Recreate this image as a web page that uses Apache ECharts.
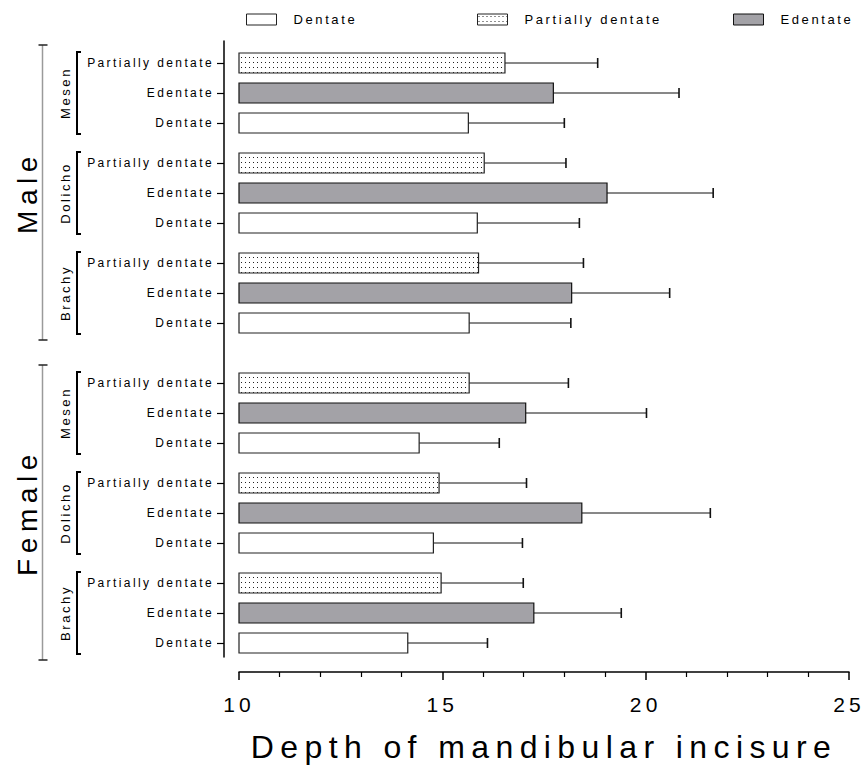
<!DOCTYPE html>
<html><head><meta charset="utf-8">
<script src="https://cdn.jsdelivr.net/npm/echarts@6/dist/echarts.min.js"></script>
<style>
html,body{margin:0;padding:0;background:#fff;}
#chart{width:867px;height:778px;}
#chart svg text{letter-spacing:0.2em;}
</style></head><body><div id="chart"></div>
<script>
// ---- data ----
const sexes = ['Male', 'Female'];
const shapes = ['Mesen', 'Dolicho', 'Brachy'];
const statuses = ['Partially dentate', 'Edentate', 'Dentate'];
const legendOrder = ['Dentate', 'Partially dentate', 'Edentate'];
// order of groups: Male Mesen, Male Dolicho, Male Brachy, Female Mesen, Female Dolicho, Female Brachy
const partialMean  = [16.54, 16.03, 15.89, 15.66, 14.92, 14.97];
const partialSD    = [2.28, 2.01, 2.58, 2.44, 2.15, 2.02];
const edentateMean = [17.73, 19.05, 18.18, 17.05, 18.43, 17.25];
const edentateSD   = [3.09, 2.61, 2.41, 2.97, 3.16, 2.15];
const dentateMean  = [15.64, 15.86, 15.66, 14.43, 14.78, 14.15];
const dentateSD    = [2.36, 2.51, 2.50, 1.97, 2.19, 1.96];
const xTicks = [10, 15, 20, 25];
const xTitle = 'Depth of mandibular incisure';

// ---- layout helpers ----
const FONT = '"Liberation Sans", Arial, sans-serif';
const X_MIN = xTicks[0], X_MAX = xTicks[xTicks.length - 1];
function rowPos(sexI, shapeI, statusI) { return sexI * 32 + shapeI * 10 + statusI * 3; }

function makeDots() {
  const c = document.createElement('canvas');
  c.width = 4; c.height = 5;
  const ctx = c.getContext('2d');
  ctx.fillStyle = '#ffffff'; ctx.fillRect(0, 0, 4, 5);
  ctx.fillStyle = '#222222'; ctx.fillRect(1, 2, 1, 1);
  return c;
}
const dotPattern = { image: makeDots(), repeat: 'repeat', imageWidth: 4, imageHeight: 5 };

const statusStyle = {
  'Partially dentate': { fill: dotPattern, stroke: '#222', lineWidth: 1.2 },
  'Edentate': { fill: '#a3a2a7', stroke: '#111', lineWidth: 1.2 },
  'Dentate': { fill: '#ffffff', stroke: '#222', lineWidth: 1.2 }
};
const statusData = {
  'Partially dentate': [partialMean, partialSD],
  'Edentate': [edentateMean, edentateSD],
  'Dentate': [dentateMean, dentateSD]
};

const positions = [];
const labelAt = {};
sexes.forEach((s, si) => shapes.forEach((sh, hi) => statuses.forEach((st, ti) => {
  const p = rowPos(si, hi, ti);
  positions.push(p);
  labelAt[p] = st;
})));

function barSeries(status) {
  const ti = statuses.indexOf(status);
  const [means, sds] = statusData[status];
  const data = [];
  sexes.forEach((s, si) => shapes.forEach((sh, hi) => {
    const gi = si * shapes.length + hi;
    data.push([means[gi], rowPos(si, hi, ti), sds[gi]]);
  }));
  const st = statusStyle[status];
  return {
    type: 'custom', name: status, coordinateSystem: 'cartesian2d',
    encode: { x: 0, y: 1 }, data: data, silent: true,
    itemStyle: { color: st.fill, borderColor: st.stroke, borderWidth: st.lineWidth },
    renderItem: function (params, api) {
      const mean = api.value(0), pos = api.value(1), sd = api.value(2);
      const p0 = api.coord([X_MIN, pos]);
      const p1 = api.coord([mean, pos]);
      const p2 = api.coord([mean + sd, pos]);
      const h = api.size([0, 2])[1];
      const cap = api.size([0, 1])[1] / 2;
      return { type: 'group', children: [
        { type: 'line', shape: { x1: p1[0], y1: p1[1], x2: p2[0], y2: p2[1] }, style: { stroke: '#111', lineWidth: 1 } },
        { type: 'line', shape: { x1: p2[0], y1: p2[1] - cap, x2: p2[0], y2: p2[1] + cap }, style: { stroke: '#111', lineWidth: 1.6 } },
        { type: 'rect', shape: { x: p0[0], y: p1[1] - h / 2, width: p1[0] - p0[0], height: h },
          style: { fill: st.fill, stroke: st.stroke, lineWidth: st.lineWidth } }
      ] };
    }
  };
}

// group annotation (brackets + rotated names)
const subGroups = [];
sexes.forEach((s, si) => shapes.forEach((sh, hi) => {
  subGroups.push({ name: sh, first: rowPos(si, hi, 0), last: rowPos(si, hi, statuses.length - 1) });
}));
const sexGroups = sexes.map((s, si) => ({ name: s, first: rowPos(si, 0, 0), last: rowPos(si, shapes.length - 1, statuses.length - 1) }));

function textEl(x, y, text, size) {
  return { type: 'text', x: x, y: y, rotation: Math.PI / 2,
    style: { text: text, fill: '#000', fontSize: size, fontFamily: FONT,
      align: 'center', verticalAlign: 'middle', textAlign: 'center', textVerticalAlign: 'middle' } };
}

const subGroupSeries = {
  type: 'custom', name: 'subgroups', coordinateSystem: 'cartesian2d', silent: true,
  encode: { x: 0, y: [1, 2] },
  data: subGroups.map(g => [X_MIN, g.first, g.last]),
  renderItem: function (params, api) {
    const g = subGroups[params.dataIndex];
    const a = api.coord([X_MIN, api.value(1) - 1.1]);
    const b = api.coord([X_MIN, api.value(2) + 1.1]);
    const x = a[0] - 162;
    return { type: 'group', children: [
      { type: 'polyline', shape: { points: [[x + 4, a[1]], [x, a[1]], [x, b[1]], [x + 4, b[1]]] },
        style: { stroke: '#000', lineWidth: 2, fill: null } },
      textEl(a[0] - 174, (a[1] + b[1]) / 2, g.name, 13)
    ] };
  }
};
const sexSeries = {
  type: 'custom', name: 'sexes', coordinateSystem: 'cartesian2d', silent: true,
  encode: { x: 0, y: [1, 2] },
  data: sexGroups.map(g => [X_MIN, g.first, g.last]),
  renderItem: function (params, api) {
    const g = sexGroups[params.dataIndex];
    const a = api.coord([X_MIN, api.value(1) - 1.8]);
    const b = api.coord([X_MIN, api.value(2) + 1.7]);
    const x = a[0] - 196.5;
    return { type: 'group', children: [
      { type: 'line', shape: { x1: x, y1: a[1], x2: x, y2: b[1] }, style: { stroke: '#9a9a9a', lineWidth: 1.5 } },
      { type: 'line', shape: { x1: x - 4, y1: a[1], x2: x + 5, y2: a[1] }, style: { stroke: '#222', lineWidth: 1.5 } },
      { type: 'line', shape: { x1: x - 4, y1: b[1], x2: x + 5, y2: b[1] }, style: { stroke: '#222', lineWidth: 1.5 } },
      textEl(a[0] - 212, (a[1] + b[1]) / 2, g.name, 28)
    ] };
  }
};

const legendLeft = { 'Dentate': 241, 'Partially dentate': 472, 'Edentate': 728 };
const legends = legendOrder.map(n => ({
  left: legendLeft[n], top: 8, orient: 'horizontal', selectedMode: false,
  itemWidth: 30, itemHeight: 11,
  data: [{ name: n, icon: 'rect', itemStyle: { color: statusStyle[n].fill, borderColor: statusStyle[n].stroke, borderWidth: 1 } }],
  textStyle: { fontSize: 13, fontFamily: FONT, color: '#000', padding: [0, 0, 0, 12] }
}));

const chart = echarts.init(document.getElementById('chart'), null, { renderer: 'svg' });
chart.setOption({
  animation: false,
  backgroundColor: '#fff',
  legend: legends,
  grid: { left: 239, right: 18, top: 41, bottom: 121, containLabel: false },
  xAxis: {
    type: 'value', min: X_MIN, max: X_MAX, interval: 5, offset: 15, position: 'bottom',
    axisLine: { show: true, onZero: false, lineStyle: { color: '#000', width: 1.5 } },
    axisTick: { show: true, length: 8, lineStyle: { color: '#000', width: 1.5 } },
    minorTick: { show: true, splitNumber: 5, length: 5, lineStyle: { color: '#000', width: 1.2 } },
    axisLabel: { customValues: xTicks, fontSize: 21, margin: 22, color: '#000', fontFamily: FONT },
    splitLine: { show: false },
    name: xTitle, nameLocation: 'middle', nameGap: 59,
    nameTextStyle: { fontSize: 32, fontFamily: FONT, color: '#000' }
  },
  yAxis: {
    type: 'value', inverse: true, min: -2.2, max: 59.4, offset: 15,
    axisLine: { show: true, onZero: false, lineStyle: { color: '#000', width: 1.5 } },
    axisTick: { show: true, customValues: positions, length: 7, lineStyle: { color: '#000', width: 1.2 } },
    axisLabel: { show: true, customValues: positions, formatter: v => labelAt[v] || '', margin: 10,
      fontSize: 12, fontFamily: FONT, color: '#000' },
    splitLine: { show: false }
  },
  series: [barSeries('Dentate'), barSeries('Partially dentate'), barSeries('Edentate'), subGroupSeries, sexSeries]
});
</script></body></html>
